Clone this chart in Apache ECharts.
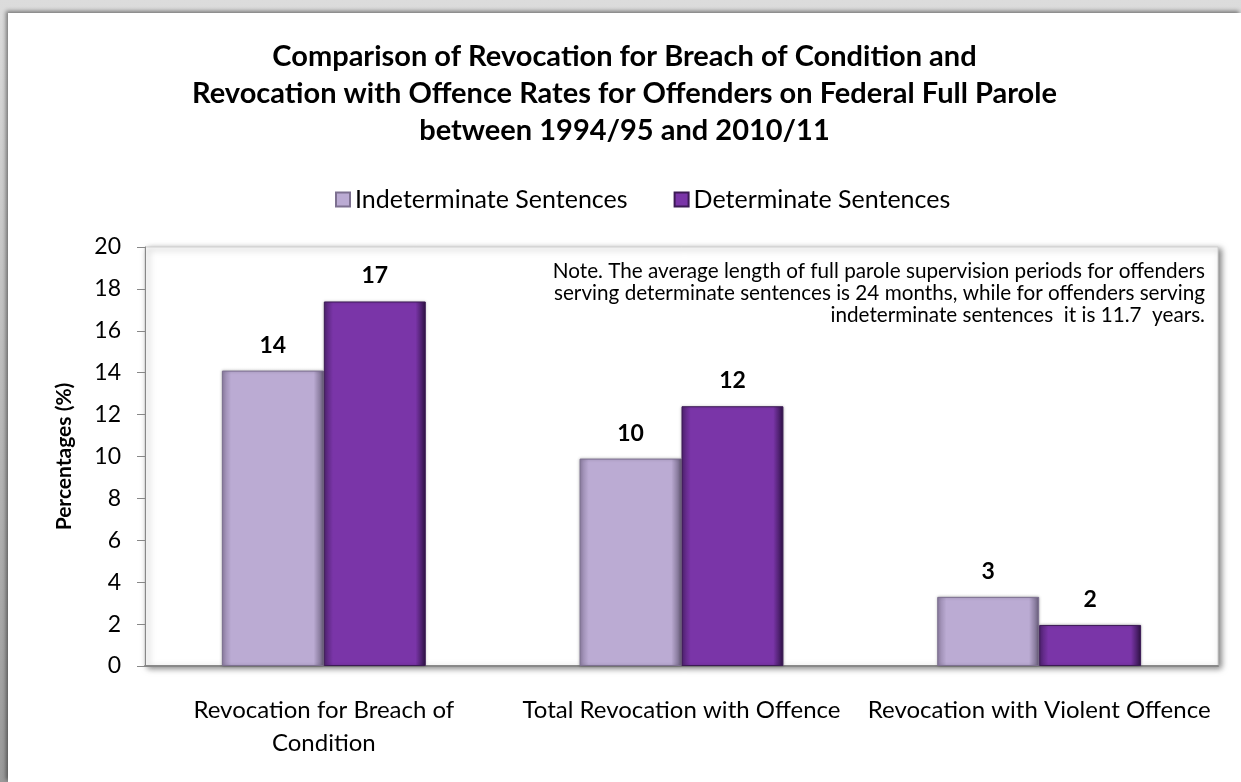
<!DOCTYPE html>
<html>
  <head>
    <meta http-equiv="Content-Type" content="text/html; charset=utf-8" />
    <title>Revocation rates</title>
    <style type="text/css">
      html,body{margin:0;padding:0;width:1241px;height:782px;overflow:hidden;}
      body{background:linear-gradient(#dcdcdc,#9a9a9a);}
      #chart1{position:absolute;left:8px;top:13px;width:1233px;height:769px;background:#fff;box-shadow:-2px -2px 4px rgba(0,0,0,0.45);}
    </style>
    <script type="text/javascript" src="https://cdn.jsdelivr.net/npm/echarts@6/dist/echarts.min.js"></script>
  </head>
  <body>
    <div id="chart1"></div>
  </body>
  <script type="text/javascript">
    // data
    var categories = ['Revocation for Breach of\nCondition', 'Total Revocation with Offence', 'Revocation with Violent Offence'];
    var indeterminate = [14.1, 9.9, 3.3];
    var determinate = [17.4, 12.4, 1.96];
    var yTicks = [0, 2, 4, 6, 8, 10, 12, 14, 16, 18, 20];

    var font = 'Lato';
    var note = 'Note. The average length of full parole supervision periods for offenders\nserving determinate sentences is 24 months, while for offenders serving\nindeterminate sentences  it is 11.7  years.';

    function bevel(edgeL, mid, edgeR){
      return new echarts.graphic.LinearGradient(0, 0, 1, 0, [
        {offset: 0, color: edgeL},
        {offset: 0.09, color: mid},
        {offset: 0.9, color: mid},
        {offset: 1, color: edgeR}
      ]);
    }

    var myChart = echarts.init(document.getElementById('chart1'));
    myChart.setOption({
      textStyle: {fontFamily: font},
      title: [{
        text: 'Comparison of Revocation for Breach of Condition and\nRevocation with Offence Rates for Offenders on Federal Full Parole\nbetween 1994/95 and 2010/11',
        left: 'center',
        top: 20,
        textStyle: {fontFamily: font, fontSize: 29, fontWeight: 'bold', color: '#000', lineHeight: 37, align: 'center'}
      }, {
        // note inside the plot, lines right aligned; anchor is the right end
        text: note,
        left: 1197,
        top: 247,
        padding: 0,
        textAlign: 'right',
        textStyle: {fontFamily: font, fontSize: 20.7, fontWeight: 'normal', color: '#000', lineHeight: 22}
      }],
      legend: {
        top: 169,
        left: 322,
        itemWidth: 14,
        itemHeight: 14,
        itemGap: 46,
        icon: 'rect',
        textStyle: {fontFamily: font, fontSize: 25, color: '#000'},
        data: ['Indeterminate Sentences', 'Determinate Sentences']
      },
      grid: {
        left: 137, right: 23, top: 234, bottom: 116,
        show: true,
        backgroundColor: '#fff',
        borderColor: '#cfcfcf',
        borderWidth: 1,
        shadowColor: 'rgba(0,0,0,0.5)',
        shadowBlur: 6,
        shadowOffsetX: 3,
        shadowOffsetY: 2
      },
      xAxis: {
        type: 'category',
        data: categories,
        axisLine: {lineStyle: {color: '#888', width: 2}},
        axisTick: {show: false},
        axisLabel: {fontFamily: font, fontSize: 24, color: '#000', margin: 28, lineHeight: 33, interval: 0}
      },
      yAxis: {
        type: 'value',
        min: yTicks[0],
        max: yTicks[yTicks.length - 1],
        interval: yTicks[1] - yTicks[0],
        name: 'Percentages (%)',
        nameLocation: 'middle',
        nameGap: 70,
        nameMoveOverlap: false,
        nameTextStyle: {fontFamily: font, fontSize: 21, fontWeight: 'bold', color: '#000'},
        axisLine: {show: true, lineStyle: {color: '#888', width: 1}},
        axisTick: {show: true, length: 8, lineStyle: {color: '#888'}},
        splitLine: {show: false},
        axisLabel: {fontFamily: font, fontSize: 23, color: '#000', margin: 24}
      },
      series: [{
        name: 'Indeterminate Sentences',
        type: 'bar',
        data: indeterminate,
        barGap: '0%',
        barCategoryGap: '43%',
        itemStyle: {
          color: bevel('#8f80a4', '#bbabd3', '#6d6180'),
          borderColor: '#7d7090',
          borderWidth: 1,
          shadowColor: 'rgba(0,0,0,0.25)',
          shadowBlur: 3
        },
        label: {
          show: true, position: 'top', distance: 14,
          fontFamily: font, fontSize: 23, fontWeight: 'bold', color: '#000',
          formatter: function(p){ return Math.round(p.value); }
        }
      }, {
        name: 'Determinate Sentences',
        type: 'bar',
        data: determinate,
        itemStyle: {
          color: bevel('#4f2270', '#7a35a8', '#2e1245'),
          borderColor: '#3c1a55',
          borderWidth: 1,
          shadowColor: 'rgba(0,0,0,0.25)',
          shadowBlur: 3
        },
        label: {
          show: true, position: 'top', distance: 14,
          fontFamily: font, fontSize: 23, fontWeight: 'bold', color: '#000',
          formatter: function(p){ return Math.round(p.value); }
        }
      }]
    });
  </script>
</html>
